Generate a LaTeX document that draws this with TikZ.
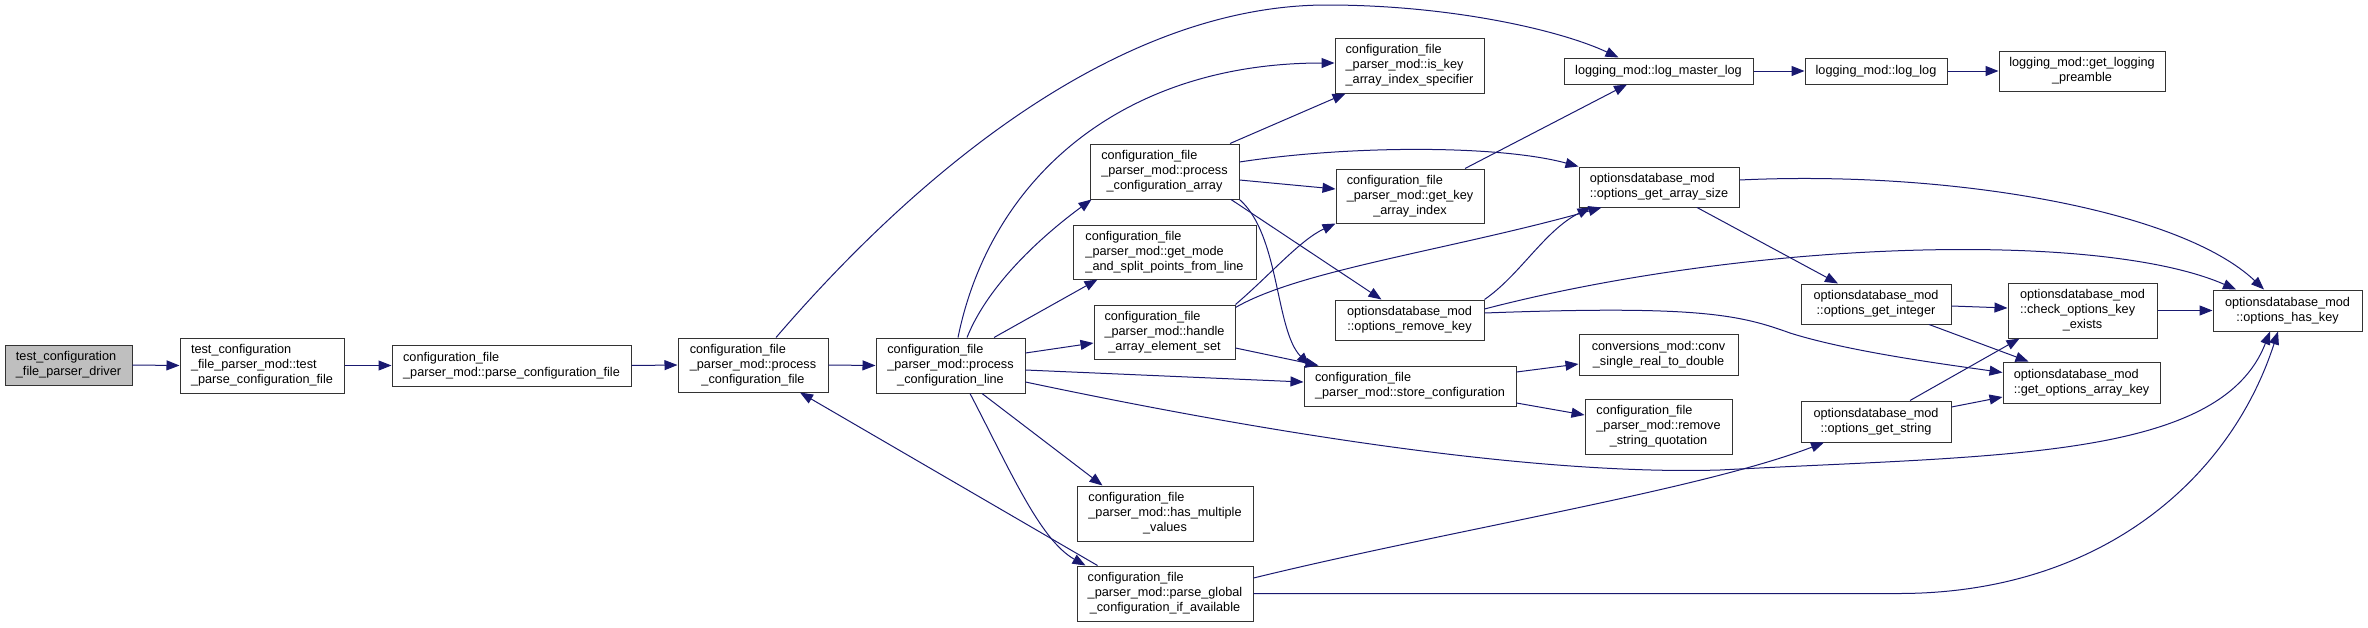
\documentclass[tikz,border=0pt]{standalone}
\usepackage{fontspec}
\setmainfont{Liberation Sans}
\usetikzlibrary{arrows.meta}
\definecolor{edgeblue}{HTML}{191970}
\definecolor{drvgray}{HTML}{BFBFBF}
\definecolor{boxline}{HTML}{333333}
\newcommand\lbl[2]{\begin{tabular}{@{}l@{}}#1\\\multicolumn{1}{@{}c@{}}{#2}\end{tabular}}
\tikzset{
  box/.style={draw=boxline, line width=1pt, fill=white, inner sep=0pt,
    font=\fontsize{12.7}{15}\selectfont},
  e/.style={draw=edgeblue, line width=1pt, -{Triangle[length=13pt,width=10pt]}}
}
\begin{document}
\begin{tikzpicture}[x=1pt,y=-1pt]
\useasboundingbox (0,0) rectangle (2368,627);
% nodes
\node[box,fill=drvgray,minimum width=127pt,minimum height=40pt] (drv) at (68.5,365) {\lbl{test\_configuration}{\_file\_parser\_driver}};
\node[box,minimum width=164pt,minimum height=55pt] (tpcf) at (262,365.5) {\lbl{test\_configuration\\\_file\_parser\_mod::test}{\_parse\_configuration\_file}};
\node[box,minimum width=239pt,minimum height=41pt] (pcf) at (511.5,365.5) {\lbl{configuration\_file}{\_parser\_mod::parse\_configuration\_file}};
\node[box,minimum width=150pt,minimum height=54pt] (prf) at (753,365) {\lbl{configuration\_file\\\_parser\_mod::process}{\_configuration\_file}};
\node[box,minimum width=149pt,minimum height=55pt] (prl) at (950.5,365.5) {\lbl{configuration\_file\\\_parser\_mod::process}{\_configuration\_line}};
\node[box,minimum width=149pt,minimum height=55pt] (pra) at (1164.5,171.5) {\lbl{configuration\_file\\\_parser\_mod::process}{\_configuration\_array}};
\node[box,minimum width=183pt,minimum height=54pt] (gms) at (1164.5,252) {\lbl{configuration\_file\\\_parser\_mod::get\_mode}{\_and\_split\_points\_from\_line}};
\node[box,minimum width=141pt,minimum height=54pt] (hae) at (1164.5,332) {\lbl{configuration\_file\\\_parser\_mod::handle}{\_array\_element\_set}};
\node[box,minimum width=176pt,minimum height=55pt] (hmv) at (1165,513.5) {\lbl{configuration\_file\\\_parser\_mod::has\_multiple}{\_values}};
\node[box,minimum width=176pt,minimum height=55pt] (pgc) at (1165,593.5) {\lbl{configuration\_file\\\_parser\_mod::parse\_global}{\_configuration\_if\_available}};
\node[box,minimum width=149pt,minimum height=55pt] (iks) at (1409.5,65.5) {\lbl{configuration\_file\\\_parser\_mod::is\_key}{\_array\_index\_specifier}};
\node[box,minimum width=148pt,minimum height=54pt] (gka) at (1410,196) {\lbl{configuration\_file\\\_parser\_mod::get\_key}{\_array\_index}};
\node[box,minimum width=149pt,minimum height=40pt] (ork) at (1409.5,320) {\lbl{optionsdatabase\_mod}{::options\_remove\_key}};
\node[box,minimum width=212pt,minimum height=40pt] (stc) at (1410,386) {\lbl{configuration\_file}{\_parser\_mod::store\_configuration}};
\node[box,minimum width=189pt,minimum height=26pt] (lml) at (1658.5,71) {logging\_mod::log\_master\_log};
\node[box,minimum width=160pt,minimum height=40pt] (ogas) at (1659,187) {\lbl{optionsdatabase\_mod}{::options\_get\_array\_size}};
\node[box,minimum width=159pt,minimum height=41pt] (conv) at (1658.5,354.5) {\lbl{conversions\_mod::conv}{\_single\_real\_to\_double}};
\node[box,minimum width=147pt,minimum height=55pt] (rsq) at (1658.5,426.5) {\lbl{configuration\_file\\\_parser\_mod::remove}{\_string\_quotation}};
\node[box,minimum width=142pt,minimum height=26pt] (llog) at (1876,71) {logging\_mod::log\_log};
\node[box,minimum width=150pt,minimum height=40pt] (ogi) at (1876,304) {\lbl{optionsdatabase\_mod}{::options\_get\_integer}};
\node[box,minimum width=150pt,minimum height=41pt] (ogs) at (1876,421.5) {\lbl{optionsdatabase\_mod}{::options\_get\_string}};
\node[box,minimum width=166pt,minimum height=40pt] (glp) at (2082,71) {\lbl{logging\_mod::get\_logging}{\_preamble}};
\node[box,minimum width=149pt,minimum height=55pt] (cke) at (2082.5,310.5) {\lbl{optionsdatabase\_mod\\::check\_options\_key}{\_exists}};
\node[box,minimum width=157pt,minimum height=41pt] (goak) at (2081.5,382.5) {\lbl{optionsdatabase\_mod}{::get\_options\_array\_key}};
\node[box,minimum width=149pt,minimum height=41pt] (ohk) at (2287.5,310.5) {\lbl{optionsdatabase\_mod}{::options\_has\_key}};
% edges
\draw[e] (drv.east) -- (tpcf.west);
\draw[e] (tpcf.east) -- (pcf.west);
\draw[e] (pcf.east) -- (prf.west);
\draw[e] (prf.east) -- (prl.west);
\draw[e] ([xshift=23pt]prf.north) .. controls (920,170) and (1120,5) .. (1327,5) .. controls (1450,5) and (1560,30) .. ([xshift=-40pt]lml.north);
\draw[e] ([xshift=7.5pt]prl.north) .. controls (990,180) and (1120,63) .. ([yshift=2.5pt]iks.west);
\draw[e] ([xshift=16.5pt]prl.north) .. controls (990,280) and (1050,230) .. ([xshift=2pt]pra.south west);
\draw[e] ([xshift=43.5pt]prl.north) -- ([xshift=25pt]gms.south west);
\draw[e] ([yshift=12.5pt]prl.east) -- ([yshift=-11pt]hae.west);
\draw[e] ([yshift=-4.5pt]prl.east) -- ([yshift=4pt]stc.west);
\draw[e] ([yshift=-16.5pt]prl.east) .. controls (1300,440) and (1550,475) .. (1720,470) .. controls (2000,455) and (2220,460) .. ([xshift=-17.5pt]ohk.south);
\draw[e] ([xshift=31.5pt]prl.south) -- ([xshift=26pt]hmv.north west);
\draw[e] ([xshift=19.5pt]prl.south) .. controls (1010,470) and (1040,540) .. ([xshift=9pt]pgc.north west);
\draw[e] ([xshift=21pt]pgc.north west) -- ([xshift=47pt]prf.south);
\draw[e] ([yshift=15.5pt]pgc.east) .. controls (1450,530) and (1700,490) .. ([xshift=-52pt]ogs.south);
\draw[e] (pgc.east) -- (1900,593.5) .. controls (2100,593) and (2230,480) .. ([xshift=-9.5pt]ohk.south);
\draw[e] ([xshift=65.5pt]pra.north) -- ([xshift=11pt]iks.south west);
\draw[e] ([yshift=-8.5pt]pra.east) -- ([yshift=7pt]gka.west);
\draw[e] ([yshift=9.5pt]pra.east) .. controls (1350,145) and (1500,145) .. (ogas.north west);
\draw[e] ([xshift=66.5pt]pra.south) -- ([xshift=47pt]ork.north west);
\draw[e] (pra.south east) .. controls (1280,235) and (1275,330) .. ([xshift=6pt]stc.north west);
\draw[e] ([xshift=55pt]gka.north) -- ([xshift=-31.5pt]lml.south);
\draw[e] (hae.north east) .. controls (1270,275) and (1300,240) .. (gka.south west);
\draw[e] ([yshift=-3pt]hae.north east) .. controls (1300,270) and (1450,250) .. ([xshift=23pt]ogas.south west);
\draw[e] ([yshift=-16pt]hae.east) -- ([xshift=15pt]stc.north west);
\draw[e] (ork.north east) .. controls (1520,275) and (1545,230) .. ([xshift=12pt]ogas.south west);
\draw[e] ([yshift=11pt]ork.east) .. controls (1750,240) and (2100,230) .. ([xshift=-51.5pt]ohk.north);
\draw[e] ([yshift=7pt]ork.east) .. controls (1700,305) and (1740,315) .. (1790,333) .. controls (1850,352) and (1950,365) .. ([yshift=10pt]goak.west);
\draw[e] ([yshift=14pt]stc.east) -- ([yshift=-9.5pt]conv.west);
\draw[e] ([yshift=-17pt]stc.east) -- ([yshift=11.5pt]rsq.west);
\draw[e] (lml.east) -- (llog.west);
\draw[e] (llog.east) -- (glp.west);
\draw[e] ([xshift=38pt]ogas.south) -- ([xshift=-38pt]ogi.north);
\draw[e] ([yshift=7pt]ogas.east) .. controls (1950,170) and (2180,210) .. ([xshift=-23.5pt]ohk.north);
\draw[e] ([yshift=-2pt]ogi.east) -- ([yshift=2.5pt]cke.west);
\draw[e] ([xshift=53pt]ogi.south) -- ([xshift=26pt]goak.north west);
\draw[e] (cke.east) -- (ohk.west);
\draw[e] ([xshift=34pt]ogs.north) -- ([xshift=12pt]cke.south west);
\draw[e] ([yshift=14.5pt]ogs.east) -- ([yshift=-14.5pt]goak.west);
\end{tikzpicture}
\end{document}
